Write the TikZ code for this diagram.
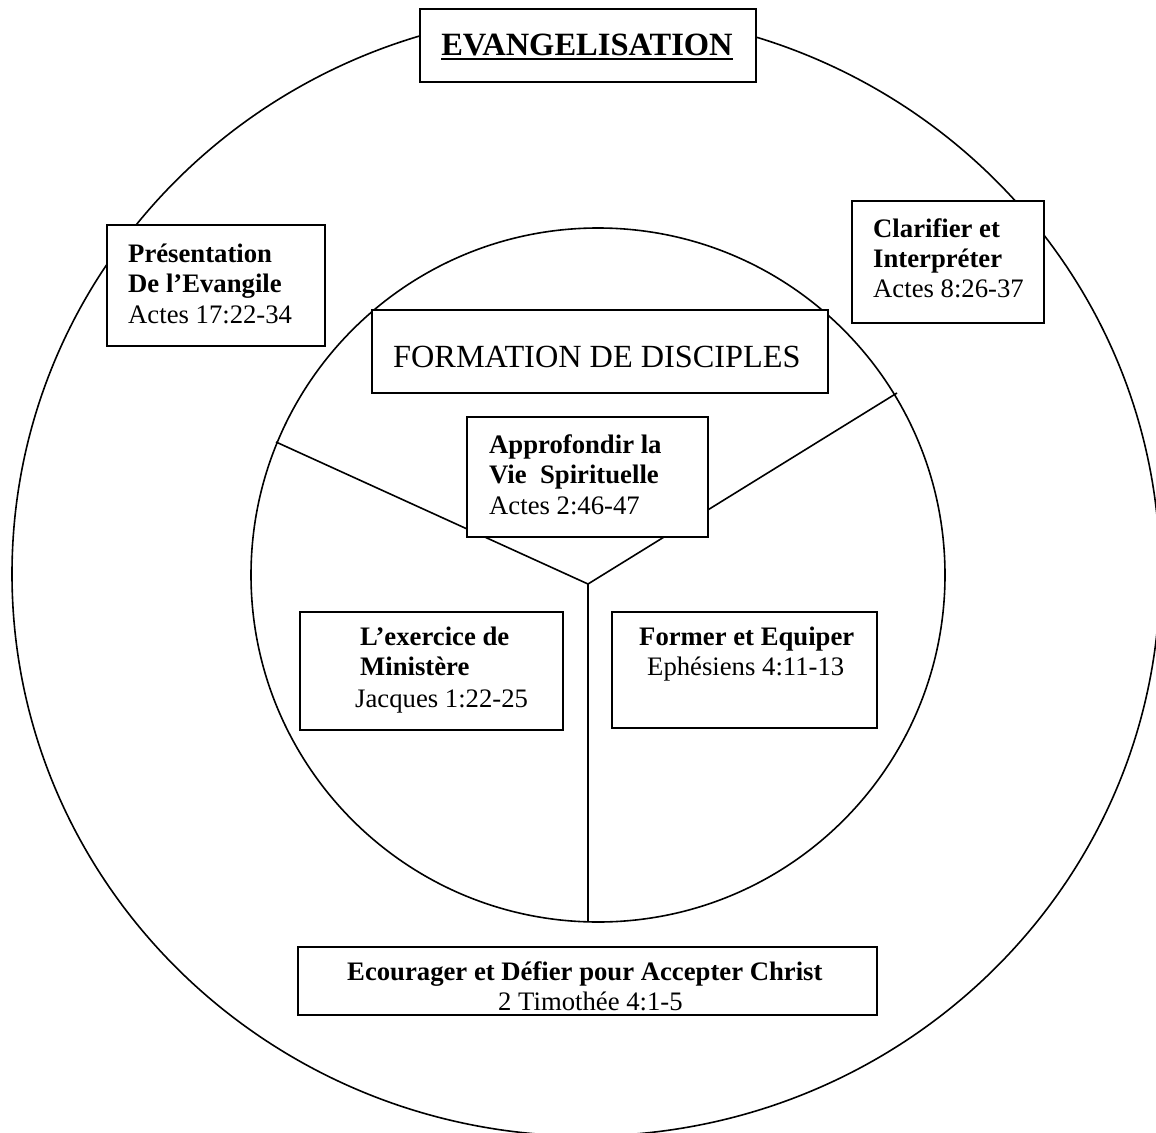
\documentclass[tikz,border=0pt]{standalone}
\usepackage{fontspec}
\setmainfont{Liberation Serif}
\begin{document}
\begin{tikzpicture}[x=1pt,y=-1pt,
  boxst/.style={draw,fill=white,line width=1.5pt},
  txt/.style={anchor=base west,inner sep=0pt,font=\fontsize{26.7}{30}\selectfont},
  btxt/.style={txt,font=\fontsize{26.7}{30}\selectfont\bfseries},
  ring/.style={line width=1.6pt},
  link/.style={line width=1.6pt}]
\useasboundingbox (0,0) rectangle (1156,1132);
\clip (0,0) rectangle (1156,1132);
% circles
\draw[ring] (586,574) ellipse [x radius=574pt, y radius=562pt];
\draw[ring] (598,575) circle [radius=347pt];
% connectors
\coordinate (L) at (276,442);
\coordinate (R) at (897,393);
\coordinate (J) at (588,584);
\coordinate (B) at (588,922);
\draw[link] (L) -- (J) -- (R);
\draw[link] (J) -- (B);
% boxes
\draw[boxst] (420,9) rectangle (756,82);
\draw[boxst] (107,225) rectangle (325,346);
\draw[boxst] (852,201) rectangle (1044,323);
\draw[boxst] (372,310) rectangle (828,393);
\draw[boxst] (467,417) rectangle (708,537);
\draw[boxst] (300,612) rectangle (563,730);
\draw[boxst] (612,612) rectangle (877,728);
\draw[boxst] (298,947) rectangle (877,1015);
% texts
\node[anchor=base,inner sep=0pt,font=\fontsize{32.5}{36}\selectfont\bfseries] (ev) at (587,56) {EVANGELISATION};
\draw[line width=2.5pt] ([yshift=-3pt]ev.base west) -- ([yshift=-3pt]ev.base east);

\node[btxt] (p1) at (128,262) {Présentation};
\node[btxt] (p2) at (128,292) {De l’Evangile};
\node[txt] (p3) at (128,323) {Actes 17:22-34};

\node[btxt] (c1) at (873,237) {Clarifier et};
\node[btxt] (c2) at (873,267) {Interpréter};
\node[txt] (c3) at (873,297) {Actes 8:26-37};

\node[anchor=base west,inner sep=0pt,font=\fontsize{32.3}{36}\selectfont] (fd) at (393,367) {FORMATION DE DISCIPLES};

\node[btxt] (a1) at (489,453) {Approfondir la};
\node[btxt] (a2) at (489,483) {Vie\ \ Spirituelle};
\node[txt] (a3) at (489,514) {Actes 2:46-47};

\node[btxt] (m1) at (360,645) {L’exercice de};
\node[btxt] (m2) at (360,675) {Ministère};
\node[txt] (m3) at (355,707) {Jacques 1:22-25};

\node[btxt] (f1) at (639,645) {Former et Equiper};
\node[txt] (f2) at (647,675) {Ephésiens 4:11-13};

\node[btxt] (e1) at (347,980) {Ecourager et Défier pour Accepter Christ};
\node[txt] (e2) at (498,1010) {2 Timothée 4:1-5};
\end{tikzpicture}
\end{document}
